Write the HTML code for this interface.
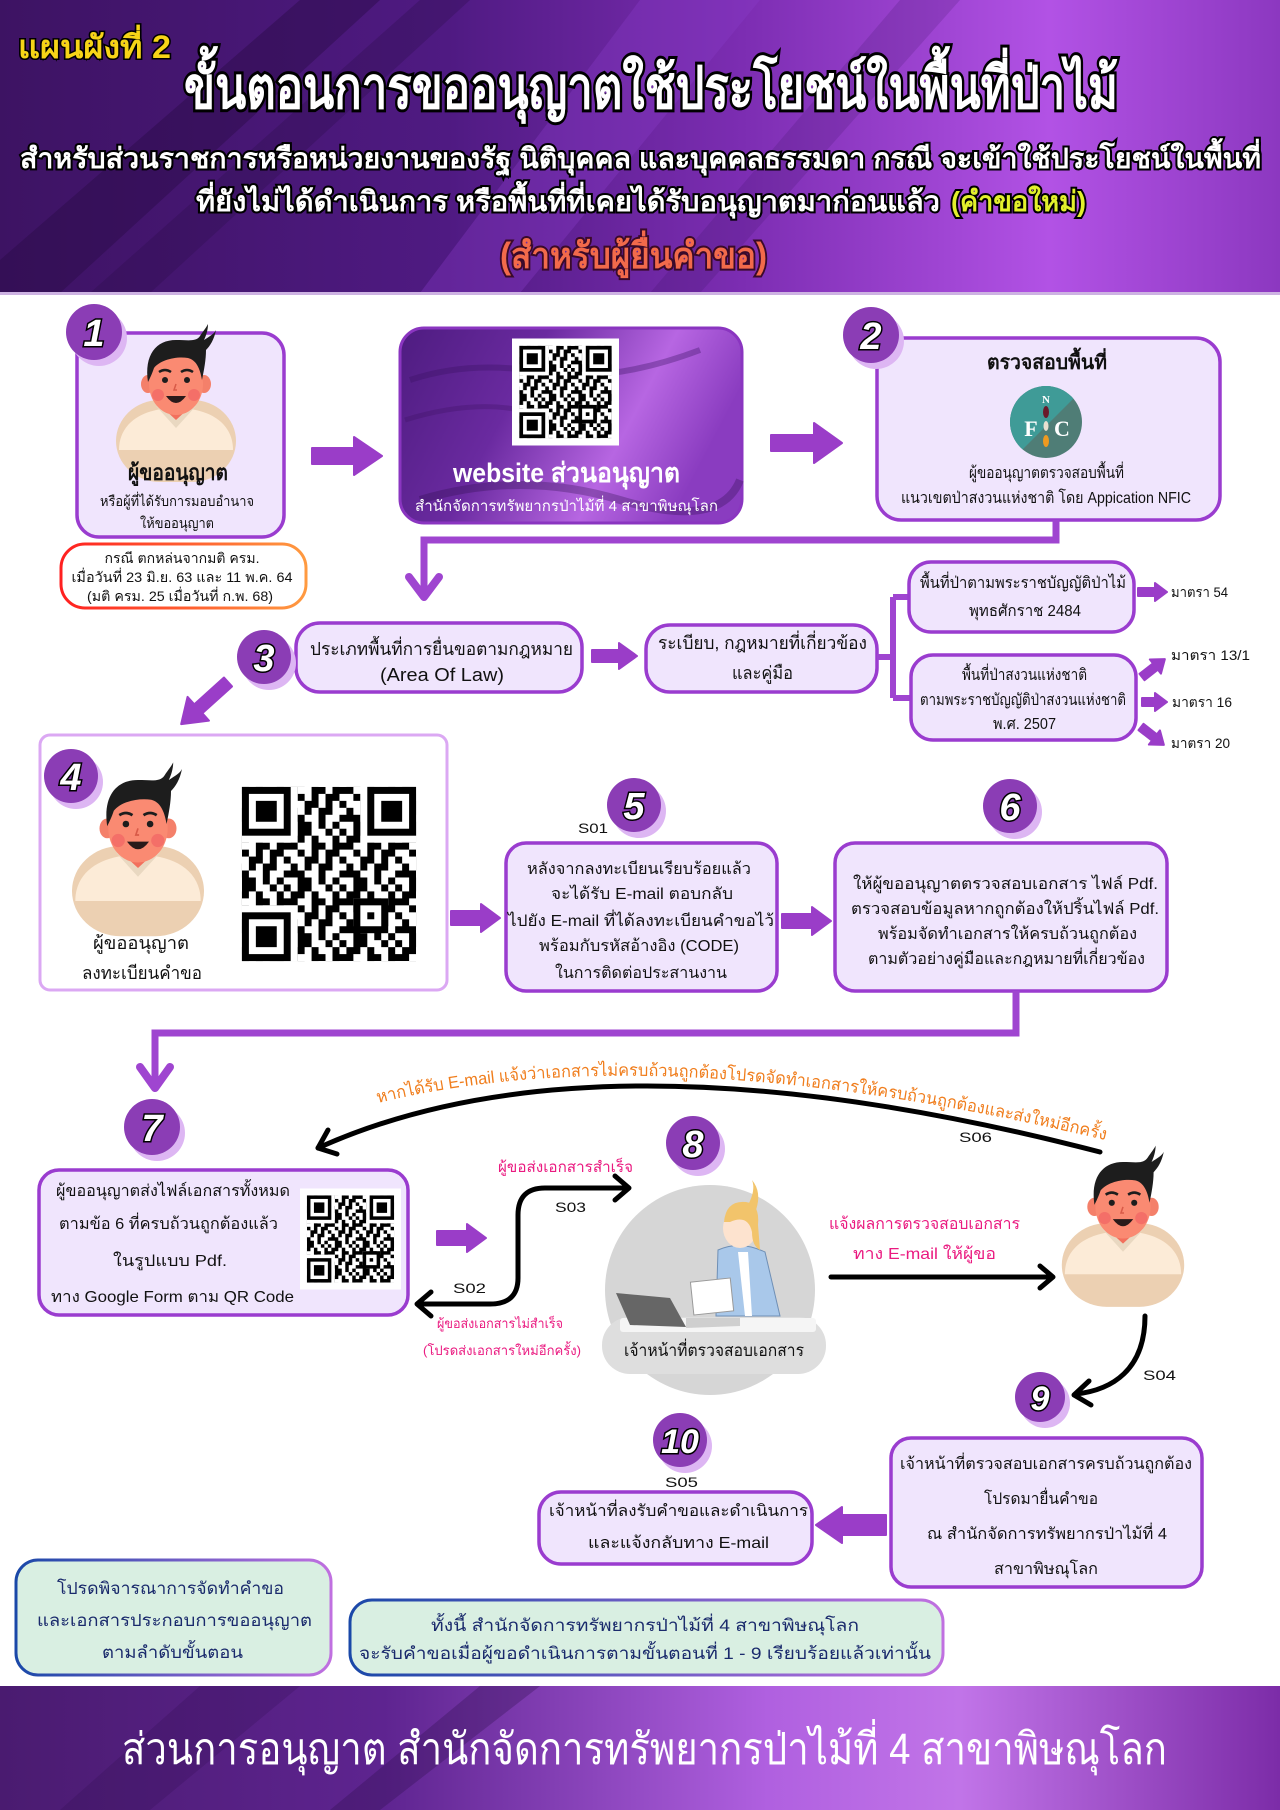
<!DOCTYPE html>
<html><head><meta charset="utf-8"><style>
html,body{margin:0;padding:0;background:#fff}
svg{display:block}
text{font-family:"Liberation Sans","DejaVu Sans","Noto Sans CJK SC",sans-serif}
.t{font-size:16px;fill:#111}
.num{font-size:38px;font-weight:bold;font-style:italic;fill:#fff;stroke:#000;stroke-width:3px;paint-order:stroke;text-anchor:middle}
.s{font-size:14px;fill:#111}
.pk{font-size:15px;fill:#ea1a80}
.bx{fill:#f0e5fd;stroke:#9a3ccf;stroke-width:3.5}
.pa{fill:#9a3dc8;stroke:#9a3dc8;stroke-width:2;stroke-linejoin:round}
.cn{fill:none;stroke:#9f45d0;stroke-width:7;stroke-linejoin:miter}
.bk{fill:none;stroke:#000;stroke-width:5;stroke-linecap:round;stroke-linejoin:round}
</style></head><body>
<svg width="1280" height="1810" viewBox="0 0 1280 1810" xmlns="http://www.w3.org/2000/svg">
<defs>
<linearGradient id="hg" x1="0" y1="0" x2="1" y2="0">
<stop offset="0" stop-color="#3d1363"/><stop offset=".35" stop-color="#4f1a82"/><stop offset=".58" stop-color="#7c2db2"/><stop offset=".82" stop-color="#b252e5"/><stop offset="1" stop-color="#8c38c0"/>
</linearGradient>
<linearGradient id="fg" x1="0" y1="0" x2="1" y2="0">
<stop offset="0" stop-color="#4a1b70"/><stop offset=".3" stop-color="#5e2490"/><stop offset=".6" stop-color="#b060e0"/><stop offset=".75" stop-color="#c174e8"/><stop offset="1" stop-color="#7c2ca8"/>
</linearGradient>
<linearGradient id="wg" x1="0" y1="0" x2="1" y2="0.3">
<stop offset="0" stop-color="#4e1c80"/><stop offset=".4" stop-color="#6a2aa0"/><stop offset=".75" stop-color="#b766e2"/><stop offset="1" stop-color="#8a3cc0"/>
</linearGradient>
<linearGradient id="ng" x1="0" y1="0" x2="1" y2="0">
<stop offset="0" stop-color="#ff2020"/><stop offset="1" stop-color="#ff9a40"/>
</linearGradient>
<linearGradient id="mg" x1="0" y1="0" x2="1" y2="0">
<stop offset="0" stop-color="#1a48a8"/><stop offset="1" stop-color="#c070e0"/>
</linearGradient>
<pattern id="qrp" width="8" height="8" patternUnits="userSpaceOnUse">
<path fill="#000" d="M0 0h1v1H0zM2 0h2v1H2zM6 0h1v1H6zM1 1h2v1H1zM4 1h1v1H4zM7 1h1v1H7zM0 2h2v1H0zM4 2h2v1H4zM7 2h1v1H7zM2 3h1v1H2zM4 3h1v1H4zM6 3h2v1H6zM0 4h1v1H0zM3 4h2v1H3zM6 4h1v1H6zM1 5h1v1H1zM3 5h1v1H3zM5 5h2v1H5zM0 6h3v1H0zM5 6h1v1H5zM2 7h2v1H2zM5 7h1v1H5zM7 7h1v1H7z"/>
</pattern>
<symbol id="qr" viewBox="0 0 29 29">
<rect width="29" height="29" fill="#fff"/>
<rect x="2" y="2" width="25" height="25" fill="url(#qrp)"/>
<rect x="2" y="2" width="8" height="8" fill="#fff"/><rect x="19" y="2" width="8" height="8" fill="#fff"/><rect x="2" y="19" width="8" height="8" fill="#fff"/>
<rect x="2" y="2" width="7" height="7"/><rect x="3" y="3" width="5" height="5" fill="#fff"/><rect x="4" y="4" width="3" height="3"/>
<rect x="20" y="2" width="7" height="7"/><rect x="21" y="3" width="5" height="5" fill="#fff"/><rect x="22" y="4" width="3" height="3"/>
<rect x="2" y="20" width="7" height="7"/><rect x="3" y="21" width="5" height="5" fill="#fff"/><rect x="4" y="22" width="3" height="3"/>
<rect x="18" y="18" width="5" height="5"/><rect x="19" y="19" width="3" height="3" fill="#fff"/><rect x="20" y="20" width="1" height="1"/>
</symbol>
<g id="man">
<rect x="-60" y="-40" width="120" height="82" rx="44" fill="#ecd0b2"/>
<path d="M-57 10 C-57 -18 -32 -32 0 -32 C32 -32 57 -18 57 10 Z" fill="#fcebd7"/>
<path d="M-20 -34 L0 -12 L20 -34 Z" fill="#e9d8c1"/>
<path d="M-13 -42 L13 -42 L13 -32 L0 -20 L-13 -32 Z" fill="#f2705d"/>
<ellipse cx="-28" cy="-56" rx="7" ry="9" fill="#f4806a"/>
<ellipse cx="28" cy="-56" rx="7" ry="9" fill="#f4806a"/>
<ellipse cx="0" cy="-56" rx="27" ry="31" fill="#fa8a72"/>
<path d="M-28 -58 C-32 -85 -20 -100 0 -100 C12 -100 20 -98 24 -104 C28 -110 30 -112 32 -116 C32 -110 30 -104 28 -100 C34 -104 38 -106 40 -110 C38 -100 34 -94 30 -90 C30 -80 28 -70 26 -60 C24 -72 20 -80 12 -82 C0 -84 -16 -80 -22 -72 C-24 -66 -26 -62 -28 -58 Z" fill="#1d1d1d"/>
<path d="M-17 -68 Q-11 -72 -5 -68 M5 -68 Q11 -72 17 -68" stroke="#1d1d1d" stroke-width="2.5" fill="none"/>
<circle cx="-11" cy="-60" r="3" fill="#1d1d1d"/><circle cx="11" cy="-60" r="3" fill="#1d1d1d"/>
<circle cx="-18" cy="-45" r="6" fill="#ee5a60" opacity=".55"/><circle cx="18" cy="-45" r="6" fill="#ee5a60" opacity=".55"/>
<path d="M0 -56 L-2 -50 L1 -50" stroke="#d85a48" stroke-width="1.5" fill="none"/>
<path d="M-10 -44 Q0 -30 10 -44 Z" fill="#2a1a1a"/>
</g>
<clipPath id="nfc"><circle cx="1046" cy="422" r="36"/></clipPath>
<path id="arcT" d="M 378 1103 Q 658 1034 1105 1140"/>
</defs>

<!-- HEADER -->
<rect x="0" y="0" width="1280" height="293" fill="url(#hg)"/>
<polygon points="300,0 380,0 60,293 0,293 0,260" fill="#2a0c48" opacity=".45"/>
<polygon points="420,0 470,0 150,293 90,293" fill="#2a0c48" opacity=".3"/>
<polygon points="640,0 760,0 520,293 420,293" fill="#8a3cc8" opacity=".35"/>
<polygon points="900,0 960,0 700,293 650,293" fill="#3a1060" opacity=".18"/>
<rect x="0" y="292" width="1280" height="3" fill="#cdb2e2"/>

<text x="18" y="58" textLength="153" lengthAdjust="spacingAndGlyphs" style="font-size:32px;font-weight:bold;fill:#f7d417;stroke:#000;stroke-width:3px;paint-order:stroke">แผนผังที่ 2</text>
<text x="184" y="108" textLength="934" lengthAdjust="spacingAndGlyphs" style="font-size:58px;font-weight:bold;fill:#fff;stroke:#000;stroke-width:6px;paint-order:stroke">ขั้นตอนการขออนุญาตใช้ประโยชน์ในพื้นที่ป่าไม้</text>
<text x="20" y="168" textLength="1241" lengthAdjust="spacingAndGlyphs" style="font-size:28px;font-weight:bold;fill:#fff;stroke:#000;stroke-width:4px;paint-order:stroke">สำหรับส่วนราชการหรือหน่วยงานของรัฐ นิติบุคคล และบุคคลธรรมดา กรณี จะเข้าใช้ประโยชน์ในพื้นที่</text>
<text x="196" y="211" textLength="744" lengthAdjust="spacingAndGlyphs" style="font-size:28px;font-weight:bold;fill:#fff;stroke:#000;stroke-width:4px;paint-order:stroke">ที่ยังไม่ได้ดำเนินการ หรือพื้นที่ที่เคยได้รับอนุญาตมาก่อนแล้ว</text>
<text x="951" y="211" textLength="135" lengthAdjust="spacingAndGlyphs" style="font-size:28px;font-weight:bold;fill:#e2f02c;stroke:#000;stroke-width:4px;paint-order:stroke">(คำขอใหม่)</text>
<text x="500" y="268" textLength="267" lengthAdjust="spacingAndGlyphs" style="font-size:36px;font-weight:bold;fill:#f26a4b;stroke:#3a0a2a;stroke-width:4px;paint-order:stroke">(สำหรับผู้ยื่นคำขอ)</text>

<!-- BOX 1 -->
<rect class="bx" x="77" y="333" width="207" height="204" rx="22"/>
<use href="#man" transform="translate(176 440)"/>
<text x="178" y="480" text-anchor="middle" textLength="100" lengthAdjust="spacingAndGlyphs" style="font-size:22px;font-weight:bold;fill:#111">ผู้ขออนุญาต</text>
<text x="177" y="506" text-anchor="middle" textLength="154" lengthAdjust="spacingAndGlyphs" style="font-size:14px;fill:#111">หรือผู้ที่ได้รับการมอบอำนาจ</text>
<text x="177" y="528" text-anchor="middle" textLength="74" lengthAdjust="spacingAndGlyphs" style="font-size:14px;fill:#111">ให้ขออนุญาต</text>
<rect x="61" y="544" width="245" height="64" rx="24" fill="#fff" stroke="url(#ng)" stroke-width="3"/>
<text x="182" y="563" text-anchor="middle" textLength="155" lengthAdjust="spacingAndGlyphs" class="s">กรณี ตกหล่นจากมติ ครม.</text>
<text x="182" y="582" text-anchor="middle" textLength="221" lengthAdjust="spacingAndGlyphs" class="s">เมื่อวันที่ 23 มิ.ย. 63 และ 11 พ.ค. 64</text>
<text x="180" y="601" text-anchor="middle" textLength="186" lengthAdjust="spacingAndGlyphs" class="s">(มติ ครม. 25 เมื่อวันที่ ก.พ. 68)</text>
<circle cx="99" cy="338" r="28" fill="#ddb6f3"/><circle cx="94" cy="332" r="28" fill="#8b3db5"/>
<text x="94" y="346" class="num">1</text>

<!-- arrow 1 -->
<path class="pa" d="M312 448 L354 448 L354 437 L382 456 L354 475 L354 464 L312 464 Z"/>

<!-- WEBSITE BOX -->
<rect x="400" y="328" width="342" height="195" rx="24" fill="url(#wg)" stroke="#8a35c0" stroke-width="3"/>
<path d="M410 380 Q470 360 540 372 T700 350" stroke="#3a1060" stroke-width="6" fill="none" opacity=".35"/>
<path d="M405 420 Q470 400 520 410" stroke="#3a1060" stroke-width="5" fill="none" opacity=".3"/>
<path d="M420 500 Q520 470 620 500 T740 480" stroke="#2a0c48" stroke-width="8" fill="none" opacity=".3"/>
<use href="#qr" x="512" y="338" width="107" height="108"/>
<text x="453" y="482" textLength="227" lengthAdjust="spacingAndGlyphs" style="font-size:27px;font-weight:bold;fill:#fff">website ส่วนอนุญาต</text>
<text x="415" y="511" textLength="303" lengthAdjust="spacingAndGlyphs" style="font-size:15px;fill:#fff">สำนักจัดการทรัพยากรป่าไม้ที่ 4 สาขาพิษณุโลก</text>

<!-- arrow 2 -->
<path class="pa" d="M771 435 L814 435 L814 423 L842 443 L814 463 L814 451 L771 451 Z"/>

<!-- BOX 2 -->
<rect class="bx" x="877" y="338" width="343" height="182" rx="24"/>
<circle cx="876" cy="341" r="28" fill="#ddb6f3"/><circle cx="871" cy="335" r="28" fill="#8b3db5"/>
<text x="871" y="349" class="num">2</text>
<text x="987" y="369" textLength="120" lengthAdjust="spacingAndGlyphs" style="font-size:20px;font-weight:bold;fill:#111">ตรวจสอบพื้นที่</text>
<g clip-path="url(#nfc)">
<rect x="1008" y="384" width="80" height="80" fill="#4f7d76"/>
<polygon points="1008,384 1088,384 1008,464" fill="#3f9b97"/>
</g>
<text x="1031" y="436" text-anchor="middle" style="font-size:22px;font-weight:bold;fill:#fff;font-family:'Liberation Serif',serif">F</text>
<text x="1062" y="436" text-anchor="middle" style="font-size:22px;font-weight:bold;fill:#fff;font-family:'Liberation Serif',serif">C</text>
<text x="1046" y="403" text-anchor="middle" style="font-size:11px;font-weight:bold;fill:#fff;font-family:'Liberation Serif',serif">N</text>
<ellipse cx="1046" cy="412" rx="3" ry="6" fill="#6a1a2a"/>
<ellipse cx="1046" cy="426" rx="2.5" ry="5" fill="#e8e0d0"/>
<ellipse cx="1046" cy="441" rx="3" ry="6" fill="#f09a20"/>
<text x="969" y="478" textLength="155" lengthAdjust="spacingAndGlyphs" class="t">ผู้ขออนุญาตตรวจสอบพื้นที่</text>
<text x="901" y="503" textLength="290" lengthAdjust="spacingAndGlyphs" class="t">แนวเขตป่าสงวนแห่งชาติ โดย Appication NFIC</text>

<!-- connector box2 -> row3 -->
<path class="cn" d="M1056 520 L1056 540 L424 540 L424 594"/>
<path d="M409 577 L424 597 L439 577" fill="none" stroke="#9f45d0" stroke-width="8" stroke-linecap="round" stroke-linejoin="round"/>

<!-- ROW 3 -->
<rect class="bx" x="296" y="623" width="286" height="69" rx="24"/>
<circle cx="269" cy="663" r="27" fill="#ddb6f3"/><circle cx="264" cy="657" r="27" fill="#8b3db5"/>
<text x="264" y="671" class="num">3</text>
<text x="310" y="655" textLength="263" lengthAdjust="spacingAndGlyphs" style="font-size:18px;fill:#111">ประเภทพื้นที่การยื่นขอตามกฎหมาย</text>
<text x="380" y="681" textLength="124" lengthAdjust="spacingAndGlyphs" style="font-size:18px;fill:#111">(Area Of Law)</text>
<path class="pa" d="M592 650 L619 650 L619 643 L637 656 L619 669 L619 662 L592 662 Z"/>
<rect class="bx" x="646" y="625" width="231" height="67" rx="24"/>
<text x="658" y="649" textLength="209" lengthAdjust="spacingAndGlyphs" style="font-size:18px;fill:#111">ระเบียบ, กฎหมายที่เกี่ยวข้อง</text>
<text x="732" y="679" textLength="61" lengthAdjust="spacingAndGlyphs" style="font-size:18px;fill:#111">และคู่มือ</text>
<path d="M877 657 L893 657 M893 597 L893 698 M893 597 L909 597 M893 698 L911 698" stroke="#9f45d0" stroke-width="6" fill="none"/>
<rect class="bx" x="909" y="562" width="225" height="70" rx="22"/>
<text x="920" y="588" textLength="206" lengthAdjust="spacingAndGlyphs" class="t">พื้นที่ป่าตามพระราชบัญญัติป่าไม้</text>
<text x="969" y="616" textLength="112" lengthAdjust="spacingAndGlyphs" class="t">พุทธศักราช 2484</text>
<rect class="bx" x="911" y="655" width="225" height="85" rx="22"/>
<text x="962" y="680" textLength="125" lengthAdjust="spacingAndGlyphs" class="t">พื้นที่ป่าสงวนแห่งชาติ</text>
<text x="920" y="705" textLength="206" lengthAdjust="spacingAndGlyphs" class="t">ตามพระราชบัญญัติป่าสงวนแห่งชาติ</text>
<text x="993" y="729" textLength="63" lengthAdjust="spacingAndGlyphs" class="t">พ.ศ. 2507</text>
<path class="pa" d="M1138 588 L1155 588 L1155 583 L1167 592 L1155 601 L1155 596 L1138 596 Z"/>
<path class="pa" d="M0 -4 L17 -4 L17 -9 L29 0 L17 9 L17 4 L0 4 Z" transform="translate(1142 677) rotate(-38)"/>
<path class="pa" d="M1142 698 L1155 698 L1155 693 L1167 702 L1155 711 L1155 706 L1142 706 Z"/>
<path class="pa" d="M0 -4 L17 -4 L17 -9 L29 0 L17 9 L17 4 L0 4 Z" transform="translate(1141 727) rotate(38)"/>
<text x="1171" y="597" textLength="57" lengthAdjust="spacingAndGlyphs" class="s">มาตรา 54</text>
<text x="1171" y="660" textLength="79" lengthAdjust="spacingAndGlyphs" class="s">มาตรา 13/1</text>
<text x="1172" y="707" textLength="60" lengthAdjust="spacingAndGlyphs" class="s">มาตรา 16</text>
<text x="1171" y="748" textLength="59" lengthAdjust="spacingAndGlyphs" class="s">มาตรา 20</text>
<path class="pa" d="M0 -6 L40 -6 L40 -16 L63 0 L40 16 L40 6 L0 6 Z" transform="translate(228 682) rotate(138)"/>

<!-- BOX 4 -->
<rect x="40" y="735" width="407" height="255" rx="10" fill="#fff" stroke="#dba8f3" stroke-width="3"/>
<use href="#man" transform="translate(138 890) scale(1.1)"/>
<circle cx="76" cy="782" r="27" fill="#ddb6f3"/><circle cx="71" cy="776" r="27" fill="#8b3db5"/>
<text x="71" y="790" class="num">4</text>
<text x="141" y="949" text-anchor="middle" textLength="96" lengthAdjust="spacingAndGlyphs" style="font-size:18px;fill:#111">ผู้ขออนุญาต</text>
<text x="142" y="979" text-anchor="middle" textLength="120" lengthAdjust="spacingAndGlyphs" style="font-size:18px;fill:#111">ลงทะเบียนคำขอ</text>
<use href="#qr" x="228" y="773" width="202" height="202"/>
<path class="pa" d="M451 911 L481 911 L481 904 L500 918 L481 932 L481 925 L451 925 Z"/>

<!-- BOX 5 -->
<circle cx="639" cy="811" r="27" fill="#ddb6f3"/><circle cx="634" cy="805" r="27" fill="#8b3db5"/>
<text x="634" y="819" class="num">5</text>
<text x="578" y="833" textLength="30" lengthAdjust="spacingAndGlyphs" class="s">S01</text>
<rect class="bx" x="506" y="843" width="271" height="148" rx="20"/>
<text x="527" y="874" textLength="224" lengthAdjust="spacingAndGlyphs" class="t">หลังจากลงทะเบียนเรียบร้อยแล้ว</text>
<text x="551" y="899" textLength="182" lengthAdjust="spacingAndGlyphs" class="t">จะได้รับ E-mail ตอบกลับ</text>
<text x="508" y="926" textLength="266" lengthAdjust="spacingAndGlyphs" class="t">ไปยัง E-mail ที่ได้ลงทะเบียนคำขอไว้</text>
<text x="539" y="951" textLength="200" lengthAdjust="spacingAndGlyphs" class="t">พร้อมกับรหัสอ้างอิง (CODE)</text>
<text x="555" y="978" textLength="172" lengthAdjust="spacingAndGlyphs" class="t">ในการติดต่อประสานงาน</text>
<path class="pa" d="M782 914 L812 914 L812 907 L831 921 L812 935 L812 928 L782 928 Z"/>

<!-- BOX 6 -->
<circle cx="1015" cy="812" r="27" fill="#ddb6f3"/><circle cx="1010" cy="806" r="27" fill="#8b3db5"/>
<text x="1010" y="820" class="num">6</text>
<rect class="bx" x="835" y="843" width="332" height="148" rx="20"/>
<text x="853" y="889" textLength="305" lengthAdjust="spacingAndGlyphs" class="t">ให้ผู้ขออนุญาตตรวจสอบเอกสาร ไฟล์ Pdf.</text>
<text x="851" y="914" textLength="308" lengthAdjust="spacingAndGlyphs" class="t">ตรวจสอบข้อมูลหากถูกต้องให้ปริ้นไฟล์ Pdf.</text>
<text x="878" y="939" textLength="259" lengthAdjust="spacingAndGlyphs" class="t">พร้อมจัดทำเอกสารให้ครบถ้วนถูกต้อง</text>
<text x="868" y="964" textLength="277" lengthAdjust="spacingAndGlyphs" class="t">ตามตัวอย่างคู่มือและกฎหมายที่เกี่ยวข้อง</text>

<!-- connector 6 -> 7 -->
<path class="cn" d="M1016 991 L1016 1033 L155 1033 L155 1084"/>
<path d="M140 1067 L155 1088 L170 1067" fill="none" stroke="#9f45d0" stroke-width="8" stroke-linecap="round" stroke-linejoin="round"/>

<!-- BOX 7 -->
<circle cx="157" cy="1133" r="28" fill="#ddb6f3"/><circle cx="152" cy="1127" r="28" fill="#8b3db5"/>
<text x="152" y="1141" class="num">7</text>
<rect class="bx" x="39" y="1170" width="369" height="145" rx="20"/>
<text x="56" y="1196" textLength="234" lengthAdjust="spacingAndGlyphs" class="t">ผู้ขออนุญาตส่งไฟล์เอกสารทั้งหมด</text>
<text x="59" y="1229" textLength="219" lengthAdjust="spacingAndGlyphs" class="t">ตามข้อ 6 ที่ครบถ้วนถูกต้องแล้ว</text>
<text x="113" y="1266" textLength="114" lengthAdjust="spacingAndGlyphs" class="t">ในรูปแบบ Pdf.</text>
<text x="51" y="1302" textLength="243" lengthAdjust="spacingAndGlyphs" class="t">ทาง Google Form ตาม QR Code</text>
<use href="#qr" x="300" y="1188" width="101" height="102"/>
<path class="pa" d="M437 1231 L467 1231 L467 1224 L486 1238 L467 1252 L467 1245 L437 1245 Z"/>

<!-- S curve -->
<path class="bk" d="M628 1188 L545 1188 Q518 1188 518 1215 L518 1278 Q518 1304 490 1304 L418 1304"/>
<path class="bk" d="M615 1176 L629 1188 L615 1200"/>
<path class="bk" d="M431 1292 L417 1304 L431 1316"/>
<text x="498" y="1172" textLength="135" lengthAdjust="spacingAndGlyphs" class="pk">ผู้ขอส่งเอกสารสำเร็จ</text>
<text x="555" y="1212" textLength="31" lengthAdjust="spacingAndGlyphs" class="s">S03</text>
<text x="453" y="1293" textLength="33" lengthAdjust="spacingAndGlyphs" class="s">S02</text>
<text x="437" y="1328" textLength="126" lengthAdjust="spacingAndGlyphs" style="font-size:13px;fill:#ea1a80">ผู้ขอส่งเอกสารไม่สำเร็จ</text>
<text x="423" y="1355" textLength="158" lengthAdjust="spacingAndGlyphs" style="font-size:13px;fill:#ea1a80">(โปรดส่งเอกสารใหม่อีกครั้ง)</text>

<!-- 8: officer illustration -->
<circle cx="710" cy="1290" r="105" fill="#d6d6d6"/>
<rect x="602" y="1317" width="224" height="57" rx="28" fill="#dedede"/>
<rect x="620" y="1318" width="196" height="14" rx="3" fill="#f5f5f5"/>
<path d="M718 1250 Q740 1240 765 1252 L780 1316 L716 1316 Z" fill="#a9c8ea" stroke="#6f8fb5" stroke-width="1"/>
<path d="M738 1252 L745 1316 L752 1316 L748 1252 Z" fill="#fff"/>
<ellipse cx="740" cy="1228" rx="17" ry="20" fill="#fde3cf"/>
<path d="M724 1222 Q726 1200 746 1202 Q760 1204 758 1225 L760 1250 Q752 1246 752 1232 Q748 1214 730 1222 Z" fill="#f2c46b"/>
<path d="M748 1205 Q756 1190 752 1180 Q762 1192 756 1210 Z" fill="#f2c46b"/>
<rect x="692" y="1280" width="40" height="33" fill="#fff" stroke="#999" stroke-width="1" transform="rotate(-6 712 1296)"/>
<path d="M616 1293 L670 1298 L686 1327 L630 1325 Z" fill="#666"/>
<path d="M686 1318 L740 1318 L740 1326 L686 1328 Z" fill="#cfcfcf"/>
<circle cx="698" cy="1143" r="27" fill="#ddb6f3" transform="translate(0 6)"/><circle cx="693" cy="1143" r="27" fill="#8b3db5"/>
<text x="693" y="1157" class="num">8</text>
<text x="624" y="1356" textLength="180" lengthAdjust="spacingAndGlyphs" style="font-size:17px;fill:#111">เจ้าหน้าที่ตรวจสอบเอกสาร</text>

<!-- notify arrow -->
<text x="829" y="1229" textLength="191" lengthAdjust="spacingAndGlyphs" style="font-size:16px;fill:#ea1a80">แจ้งผลการตรวจสอบเอกสาร</text>
<text x="853" y="1259" textLength="143" lengthAdjust="spacingAndGlyphs" style="font-size:16px;fill:#ea1a80">ทาง E-mail ให้ผู้ขอ</text>
<path class="bk" d="M831 1277 L1052 1277"/>
<path class="bk" d="M1040 1266 L1053 1277 L1040 1288"/>

<!-- right avatar -->
<use href="#man" transform="translate(1123 1264) scale(1.02)"/>

<!-- top arc S06 -->
<path class="bk" d="M1100 1152 Q597 1022 318 1148"/>
<path class="bk" d="M337 1154 L318 1148 L328 1130"/>
<text style="font-size:17px;fill:#f07d1c"><textPath href="#arcT" textLength="735" lengthAdjust="spacingAndGlyphs">หากได้รับ E-mail แจ้งว่าเอกสารไม่ครบถ้วนถูกต้องโปรดจัดทำเอกสารให้ครบถ้วนถูกต้องและส่งใหม่อีกครั้ง</textPath></text>
<text x="959" y="1142" textLength="33" lengthAdjust="spacingAndGlyphs" class="s">S06</text>

<!-- S04 -->
<path class="bk" d="M1145 1316 C1145 1370 1112 1390 1076 1394"/>
<path class="bk" d="M1089 1381 L1074 1395 L1091 1405"/>
<text x="1143" y="1380" textLength="33" lengthAdjust="spacingAndGlyphs" class="s">S04</text>

<!-- BOX 9 -->
<circle cx="1045" cy="1403" r="25" fill="#ddb6f3"/><circle cx="1040" cy="1397" r="25" fill="#8b3db5"/>
<text x="1040" y="1410" class="num" style="font-size:34px">9</text>
<rect class="bx" x="891" y="1438" width="311" height="149" rx="20"/>
<text x="900" y="1469" textLength="292" lengthAdjust="spacingAndGlyphs" class="t">เจ้าหน้าที่ตรวจสอบเอกสารครบถ้วนถูกต้อง</text>
<text x="984" y="1504" textLength="114" lengthAdjust="spacingAndGlyphs" class="t">โปรดมายื่นคำขอ</text>
<text x="927" y="1539" textLength="240" lengthAdjust="spacingAndGlyphs" class="t">ณ สำนักจัดการทรัพยากรป่าไม้ที่ 4</text>
<text x="994" y="1574" textLength="104" lengthAdjust="spacingAndGlyphs" class="t">สาขาพิษณุโลก</text>
<path class="pa" d="M886 1515 L842 1515 L842 1507 L816 1525 L842 1543 L842 1535 L886 1535 Z"/>

<!-- BOX 10 -->
<circle cx="685" cy="1446" r="27" fill="#ddb6f3"/><circle cx="680" cy="1440" r="27" fill="#8b3db5"/>
<text x="680" y="1453" class="num" style="font-size:34px">10</text>
<text x="665" y="1487" textLength="33" lengthAdjust="spacingAndGlyphs" class="s">S05</text>
<rect class="bx" x="539" y="1492" width="273" height="72" rx="22"/>
<text x="549" y="1516" textLength="259" lengthAdjust="spacingAndGlyphs" class="t">เจ้าหน้าที่ลงรับคำขอและดำเนินการ</text>
<text x="588" y="1548" textLength="181" lengthAdjust="spacingAndGlyphs" class="t">และแจ้งกลับทาง E-mail</text>

<!-- NOTES -->
<rect x="16" y="1560" width="315" height="115" rx="22" fill="#d9efe2" stroke="url(#mg)" stroke-width="3"/>
<text x="57" y="1594" textLength="227" lengthAdjust="spacingAndGlyphs" style="font-size:17px;fill:#1a2a6c">โปรดพิจารณาการจัดทำคำขอ</text>
<text x="37" y="1626" textLength="275" lengthAdjust="spacingAndGlyphs" style="font-size:17px;fill:#1a2a6c">และเอกสารประกอบการขออนุญาต</text>
<text x="102" y="1658" textLength="141" lengthAdjust="spacingAndGlyphs" style="font-size:17px;fill:#1a2a6c">ตามลำดับขั้นตอน</text>
<rect x="350" y="1600" width="593" height="75" rx="22" fill="#d9efe2" stroke="url(#mg)" stroke-width="3"/>
<text x="431" y="1631" textLength="428" lengthAdjust="spacingAndGlyphs" style="font-size:17px;fill:#1a2a6c">ทั้งนี้ สำนักจัดการทรัพยากรป่าไม้ที่ 4 สาขาพิษณุโลก</text>
<text x="359" y="1659" textLength="572" lengthAdjust="spacingAndGlyphs" style="font-size:17px;fill:#1a2a6c">จะรับคำขอเมื่อผู้ขอดำเนินการตามขั้นตอนที่ 1 - 9 เรียบร้อยแล้วเท่านั้น</text>

<!-- FOOTER -->
<rect x="0" y="1686" width="1280" height="124" fill="url(#fg)"/>
<polygon points="480,1686 540,1686 380,1810 330,1810" fill="#2a0c48" opacity=".3"/>
<polygon points="200,1686 300,1686 150,1810 60,1810" fill="#2a0c48" opacity=".2"/>
<text x="122" y="1764" textLength="1045" lengthAdjust="spacingAndGlyphs" style="font-size:44px;fill:#fff">ส่วนการอนุญาต  สำนักจัดการทรัพยากรป่าไม้ที่ 4 สาขาพิษณุโลก</text>
</svg>
</body></html>
